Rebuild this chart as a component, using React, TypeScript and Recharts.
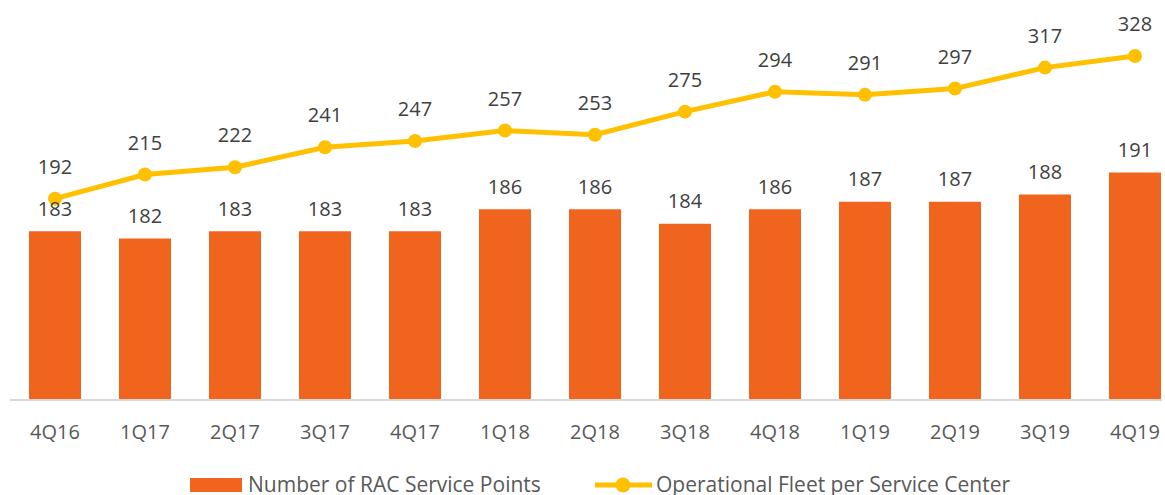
import React from 'react';
import { ComposedChart, Bar, Line, XAxis, YAxis, Legend, LabelList } from 'recharts';

const quarters = ['4Q16', '1Q17', '2Q17', '3Q17', '4Q17', '1Q18', '2Q18', '3Q18', '4Q18', '1Q19', '2Q19', '3Q19', '4Q19'];
const servicePoints = [183, 182, 183, 183, 183, 186, 186, 184, 186, 187, 187, 188, 191];
const fleetPerCenter = [192, 215, 222, 241, 247, 257, 253, 275, 294, 291, 297, 317, 328];

const data = quarters.map((q, i) => ({ q, sp: servicePoints[i], fleet: fleetPerCenter[i] }));

const ORANGE = '#F1641E';
const YELLOW = '#FFC000';
const FONT = '"Open Sans", sans-serif';

const BarLabel = (props: any) => {
  const { x, y, width, value } = props;
  return (
    <text x={x + width / 2} y={y - 23} textAnchor="middle" dominantBaseline="central" fill="#404040" fontSize={20} fontFamily={FONT}>
      {value}
    </text>
  );
};

const LineLabel = (props: any) => {
  const { x, y, value } = props;
  return (
    <text x={x} y={y - 32.5} textAnchor="middle" dominantBaseline="central" fill="#404040" fontSize={20} fontFamily={FONT}>
      {value}
    </text>
  );
};

const Tick = (props: any) => {
  const { x, payload } = props;
  return (
    <text x={x} y={431.5} textAnchor="middle" dominantBaseline="central" fill="#595959" fontSize={20} fontFamily={FONT}>
      {payload.value}
    </text>
  );
};

const LegendContent = () => (
  <svg width={1190} height={35} style={{ display: 'block', overflow: 'visible' }}>
    <rect x={190} y={18} width={52} height={14} fill={ORANGE} />
    <text x={248} y={23.5} dominantBaseline="central" fill="#595959" fontSize={21} fontFamily={FONT}>
      Number of RAC Service Points
    </text>
    <line x1={595} y1={25} x2={652} y2={25} stroke={YELLOW} strokeWidth={5} />
    <circle cx={623} cy={25} r={7.5} fill={YELLOW} />
    <text x={656} y={23.5} dominantBaseline="central" fill="#595959" fontSize={21} fontFamily={FONT}>
      Operational Fleet per Service Center
    </text>
  </svg>
);

export default function App() {
  return (
    <div style={{ position: 'absolute', left: 0, top: 0, width: 1162, height: 495, overflow: 'hidden', background: '#fff' }}>
      <ComposedChart width={1190} height={495} data={data} margin={{ top: 33, right: 10, bottom: 0, left: 10 }}>
        <XAxis dataKey="q" axisLine={{ stroke: '#D9D9D9', strokeWidth: 2 }} tickLine={false} tick={<Tick />} height={60} interval={0} />
        <YAxis yAxisId="bar" hide domain={[160, 210]} />
        <YAxis yAxisId="line" hide domain={[0, 350]} orientation="right" />
        <Legend verticalAlign="bottom" height={35} content={<LegendContent />} wrapperStyle={{ left: 0, bottom: 0, width: 1190, height: 35 }} />
        <Bar yAxisId="bar" dataKey="sp" name="Number of RAC Service Points" fill={ORANGE} barSize={52} isAnimationActive={false}>
          <LabelList dataKey="sp" content={<BarLabel />} />
        </Bar>
        <Line yAxisId="line" dataKey="fleet" name="Operational Fleet per Service Center" stroke={YELLOW} strokeWidth={5} dot={{ r: 7, fill: YELLOW, stroke: YELLOW, strokeWidth: 0 }} activeDot={false} isAnimationActive={false}>
          <LabelList dataKey="fleet" content={<LineLabel />} />
        </Line>
      </ComposedChart>
    </div>
  );
}
